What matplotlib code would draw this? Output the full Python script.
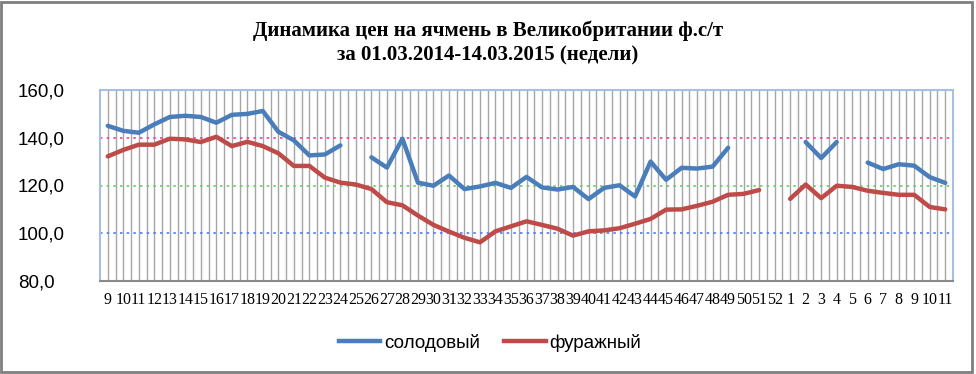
import matplotlib
matplotlib.use("Agg")
import matplotlib.pyplot as plt
import numpy as np
from matplotlib.patches import Rectangle
from matplotlib.lines import Line2D

weeks = [str(w) for w in range(9, 53)] + [str(w) for w in range(1, 12)]

malting = [145.0, 142.9, 142.1, 145.6, 148.7, 149.2, 148.7, 146.3, 149.6, 150.0,
           151.2, 142.5, 138.9, 132.6, 133.0, 136.8, None, 131.8, 127.5, 139.6,
           121.2, 119.9, 124.2, 118.5, 119.6, 121.1, 119.0, 123.6, 119.2, 118.3,
           119.4, 114.3, 119.0, 120.1, 115.4, 130.0, 122.4, 127.4, 127.1, 127.9,
           135.8, None, None, None, None, 138.2, 131.5, 138.2, None, 129.6,
           126.9, 128.9, 128.3, 123.5, 121.1]

feed = [132.2, 134.9, 137.1, 137.1, 139.6, 139.3, 138.2, 140.4, 136.5, 138.3,
        136.5, 133.5, 128.2, 128.2, 123.3, 121.2, 120.4, 118.5, 113.0, 111.7,
        107.4, 103.5, 100.7, 98.1, 96.2, 100.8, 102.9, 105.0, 103.5, 101.9,
        99.0, 100.8, 101.2, 102.1, 104.0, 106.0, 109.9, 110.0, 111.5, 113.2,
        116.1, 116.5, 118.1, None, 114.4, 120.4, 114.7, 119.9, 119.4, 117.8,
        116.9, 116.1, 116.1, 111.0, 110.0]

series_names = ["солодовый", "фуражный"]
title = "Динамика цен на ячмень в Великобритании ф.с/т\nза 01.03.2014-14.03.2015 (недели)"
yticks = [80, 100, 120, 140, 160]

W, H = 976, 374
fig = plt.figure(figsize=(W / 100, H / 100), dpi=100)
fig.patch.set_facecolor("white")
# outer chart border
fig.add_artist(Rectangle((1 / W, 2 / H), 971 / W, 370 / H, transform=fig.transFigure,
                         fill=False, edgecolor="#7f7f7f", linewidth=2))

ax = fig.add_axes([100 / W, 1 - 281 / H, 853 / W, 191 / H])
n = len(weeks)
x = np.arange(n)

def arr(v):
    return np.array([np.nan if a is None else a for a in v], dtype=float)

# vertical gridlines at every half category
for gx in np.arange(0, n, 0.5):
    ax.axvline(gx, color="#a6a6a6", linewidth=1.0, zorder=1)

# horizontal coloured dotted lines
ax.axhline(140, color="#ff3399", linestyle=(0, (1.5, 2.5)), linewidth=1.2, zorder=1.5)
ax.axhline(120, color="#66cc66", linestyle=(0, (1.5, 2.5)), linewidth=1.2, zorder=1.5)
ax.axhline(100, color="#4a7aff", linestyle=(0, (1.5, 2.5)), linewidth=1.2, zorder=1.5)

ax.plot(x, arr(malting), color="#4a7ebb", linewidth=3.2, solid_capstyle="round",
        solid_joinstyle="round", zorder=3)
ax.plot(x, arr(feed), color="#be4b48", linewidth=3.2, solid_capstyle="round",
        solid_joinstyle="round", zorder=3)

ax.set_xlim(-0.5, n - 0.5)
ax.set_ylim(80, 160)
ax.set_yticks(yticks)
ax.set_yticklabels([f"{v:.1f}".replace(".", ",") for v in yticks],
                   fontname="Liberation Sans", fontsize=13.5)
ax.set_xticks(x)
ax.set_xticklabels(weeks, fontname="Liberation Serif", fontsize=11.5)
ax.tick_params(axis="x", length=0, pad=8)
ax.tick_params(axis="y", length=0, pad=59)
for lab in ax.get_yticklabels():
    lab.set_horizontalalignment("left")

for s in ["top", "left", "right"]:
    ax.spines[s].set_color("#a7bfe4")
    ax.spines[s].set_linewidth(1.5)
ax.spines["bottom"].set_color("#8a8a8a")
ax.spines["bottom"].set_linewidth(1.5)

fig.text(488 / W, 1 - 43 / H, title, ha="center", va="center", fontname="Liberation Serif",
         fontweight="bold", fontsize=15, linespacing=1.25)

handles = [Line2D([], [], color="#4a7ebb", linewidth=3.2),
           Line2D([], [], color="#be4b48", linewidth=3.2)]
leg = fig.legend(handles, series_names, loc="center", bbox_to_anchor=(490 / W, 1 - 343 / H),
                 ncol=2, frameon=False, prop={"family": "Liberation Sans", "size": 13.5},
                 handlelength=2.2, handletextpad=0.2, columnspacing=1.3)

fig.savefig("out.png", dpi=100)
